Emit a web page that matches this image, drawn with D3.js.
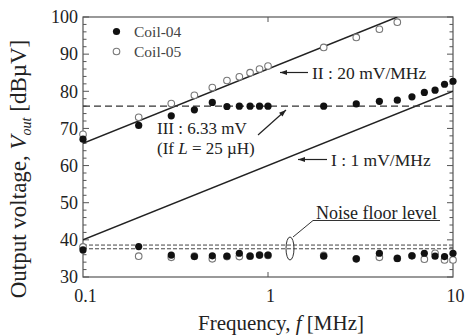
<!DOCTYPE html>
<html><head><meta charset="utf-8">
<script src="https://cdnjs.cloudflare.com/ajax/libs/d3/7.8.5/d3.min.js"></script>
<style>body{margin:0;background:#fff}svg{display:block}svg text{font-family:"Liberation Serif","Times New Roman",serif !important;fill:#222}</style>
</head><body><svg id="c" width="470" height="336"></svg>
<script>
const freqs = [0.1,0.2,0.3,0.4,0.5,0.6,0.7,0.8,0.9,1,2,3,4,5,6,7,8,9,10];
const coil04High = [67.1,70.8,73.4,75.0,77.0,75.9,76.0,76.0,76.0,76.0,76.0,76.6,77.3,77.6,78.5,79.7,80.3,81.9,82.7];
const coil04Low  = [37.3,38.2,35.9,35.5,35.7,35.6,36.4,35.6,35.9,35.9,35.6,34.9,36.4,35.0,35.7,36.4,35.6,35.5,36.4];
const freqs05High = [0.1,0.2,0.3,0.4,0.5,0.6,0.7,0.8,0.9,1,2,3,4,5];
const coil05High = [68.4,73.0,76.7,78.9,81.0,82.9,83.9,85.0,86.0,86.8,91.8,94.5,96.7,98.6];
const coil05Low  = [38.1,35.6,35.3,35.6,34.9,35.5,35.5,35.6,35.9,35.8,35.8,34.9,35.3,35.0,35.7,34.8,36.4,34.6,34.6];
const lineI_f = [0.1,10], lineI_v = [40,80];
const lineII_f = [0.1,5], lineII_v = [66,100];
const lineIII_v = 76;
const noiseLevels = [38.6,37.6];
const xTicks = [0.1,1,10], xTickLabels = ["0.1","1","10"];
const yTicks = [30,40,50,60,70,80,90,100];
const series = ["Coil-04","Coil-05"];

const svg = d3.select("#c");
const L=83,R=453,T=17,B=277;
const x = d3.scaleLog().domain([0.1,10]).range([L,R]);
const y = d3.scaleLinear().domain([30,100]).range([B,T]);

// axes
const yMinor = d3.range(30,100.1,2);
const axL = d3.axisLeft(y).tickValues(yTicks).tickSize(0).tickPadding(5);
const gl = svg.append("g").attr("transform",`translate(${L},0)`).call(axL);
gl.select(".domain").remove();
gl.selectAll("text").style("font-size","18px").attr("fill","#222");
const tickCol="#555";
svg.append("g").selectAll("line").data(yMinor).join("line")
  .attr("x1",L).attr("x2",d=>L+(d%10===0?6:3.5)).attr("y1",d=>y(d)).attr("y2",d=>y(d)).attr("stroke",tickCol);
svg.append("g").selectAll("line").data(yMinor).join("line")
  .attr("x1",R).attr("x2",d=>R-(d%10===0?6:3.5)).attr("y1",d=>y(d)).attr("y2",d=>y(d)).attr("stroke",tickCol);
const axB = d3.axisBottom(x).tickValues(xTicks).tickFormat((d,i)=>xTickLabels[i]).tickSize(0).tickPadding(12);
const gb = svg.append("g").attr("transform",`translate(0,${B})`).call(axB);
gb.select(".domain").remove();
gb.selectAll("text").style("font-size","18px").attr("fill","#222").attr("dx",2);
svg.append("g").selectAll("line").data([1]).join("line")
  .attr("x1",d=>x(d)).attr("x2",d=>x(d)).attr("y1",B).attr("y2",B-5).attr("stroke",tickCol);
svg.append("g").selectAll("line").data([1]).join("line")
  .attr("x1",d=>x(d)).attr("x2",d=>x(d)).attr("y1",T).attr("y2",T+5).attr("stroke",tickCol);
svg.append("rect").attr("x",L).attr("y",T).attr("width",R-L).attr("height",B-T)
  .attr("fill","none").attr("stroke","#555").attr("stroke-width",1.2);

// clip
svg.append("clipPath").attr("id","clip").append("rect").attr("x",L).attr("y",T).attr("width",R-L).attr("height",B-T);
const plot = svg.append("g").attr("clip-path","url(#clip)");

const ln = d3.line().x(d=>x(d[0])).y(d=>y(d[1]));
plot.append("path").attr("d",ln(d3.zip(lineI_f,lineI_v))).attr("stroke","#222").attr("stroke-width",1.5).attr("fill","none");
plot.append("path").attr("d",ln(d3.zip(lineII_f,lineII_v))).attr("stroke","#222").attr("stroke-width",1.5).attr("fill","none");
plot.append("line").attr("x1",L).attr("x2",R).attr("y1",y(lineIII_v)).attr("y2",y(lineIII_v))
  .attr("stroke","#333").attr("stroke-width",1.3).attr("stroke-dasharray","7,4");
plot.selectAll(".nf").data(noiseLevels).join("line").attr("class","nf")
  .attr("x1",L).attr("x2",R).attr("y1",d=>y(d)).attr("y2",d=>y(d))
  .attr("stroke","#444").attr("stroke-width",1).attr("stroke-dasharray","4,2");

// points
const openPts = d3.zip(freqs05High,coil05High).concat(d3.zip(freqs,coil05Low));
const fillPts = d3.zip(freqs,coil04High).concat(d3.zip(freqs,coil04Low));
svg.append("g").selectAll("circle").data(openPts).join("circle")
  .attr("cx",d=>x(d[0])).attr("cy",d=>y(d[1])).attr("r",3.3)
  .attr("fill","#fff").attr("stroke","#777").attr("stroke-width",1.1);
svg.append("g").selectAll("circle").data(fillPts).join("circle")
  .attr("cx",d=>x(d[0])).attr("cy",d=>y(d[1])).attr("r",3.6).attr("fill","#111");

// legend
const lg = svg.append("g");
lg.append("circle").attr("cx",116.5).attr("cy",31.5).attr("r",3.6).attr("fill","#111");
lg.append("circle").attr("cx",116.5).attr("cy",51.5).attr("r",3.3).attr("fill","#fff").attr("stroke","#777").attr("stroke-width",1.1);
lg.selectAll("text").data(series).join("text").attr("x",134).attr("y",(d,i)=>31.5+i*20).attr("dy","0.35em")
  .style("font-size","15.5px").style("fill","#444").text(d=>d);

// annotations
const ann = svg.append("g");
function arrow(x1,y1,x2,y2){
  ann.append("line").attr("x1",x1).attr("y1",y1).attr("x2",x2).attr("y2",y2).attr("stroke","#222").attr("stroke-width",1.2);
  const a=Math.atan2(y2-y1,x2-x1), s=7, w=2.6;
  const p=[[x2,y2],[x2-s*Math.cos(a)+w*Math.sin(a),y2-s*Math.sin(a)-w*Math.cos(a)],[x2-s*Math.cos(a)-w*Math.sin(a),y2-s*Math.sin(a)+w*Math.cos(a)]];
  ann.append("path").attr("d","M"+p.join("L")+"Z").attr("fill","#222");
}
arrow(308,72.5,280,72.5);
ann.append("text").attr("x",312).attr("y",72.5).attr("dy","0.35em").style("font-size","17.5px").text("II : 20 mV/MHz");
arrow(327,159.5,298,159.5);
ann.append("text").attr("x",331).attr("y",159.5).attr("dy","0.35em").style("font-size","17.5px").text("I : 1 mV/MHz");
arrow(258,135,286,110);
ann.append("text").attr("x",157).attr("y",128).attr("dy","0.35em").style("font-size","17px").text("III : 6.33 mV");
const t3=ann.append("text").attr("x",157).attr("y",148).attr("dy","0.35em").style("font-size","17px");
t3.append("tspan").text("(If ");
t3.append("tspan").attr("font-style","italic").text("L");
t3.append("tspan").text(" = 25 µH)");
ann.append("text").attr("x",316).attr("y",213).attr("dy","0.35em").style("font-size","18px").text("Noise floor level");
ann.append("path").attr("d","M440,220.5L313,220.5L293,237").attr("fill","none").attr("stroke","#333").attr("stroke-width",1);
ann.append("ellipse").attr("cx",290).attr("cy",248.5).attr("rx",4).attr("ry",11.5).attr("fill","none").attr("stroke","#333").attr("stroke-width",1);

// axis titles
const xt = svg.append("text").attr("x",281).attr("y",330).attr("text-anchor","middle").style("font-size","21px");
xt.append("tspan").text("Frequency, ");
xt.append("tspan").attr("font-style","italic").text("f");
xt.append("tspan").text(" [MHz]");
const yt = svg.append("text").attr("transform","translate(26,169) rotate(-90)").attr("text-anchor","middle").style("font-size","23px");
yt.append("tspan").text("Output voltage, ");
yt.append("tspan").attr("font-style","italic").text("V");
yt.append("tspan").attr("font-style","italic").attr("dy",5).style("font-size","14px").text("out");
yt.append("tspan").attr("dy",-5).text("  [dBµV]");
</script></body></html>
